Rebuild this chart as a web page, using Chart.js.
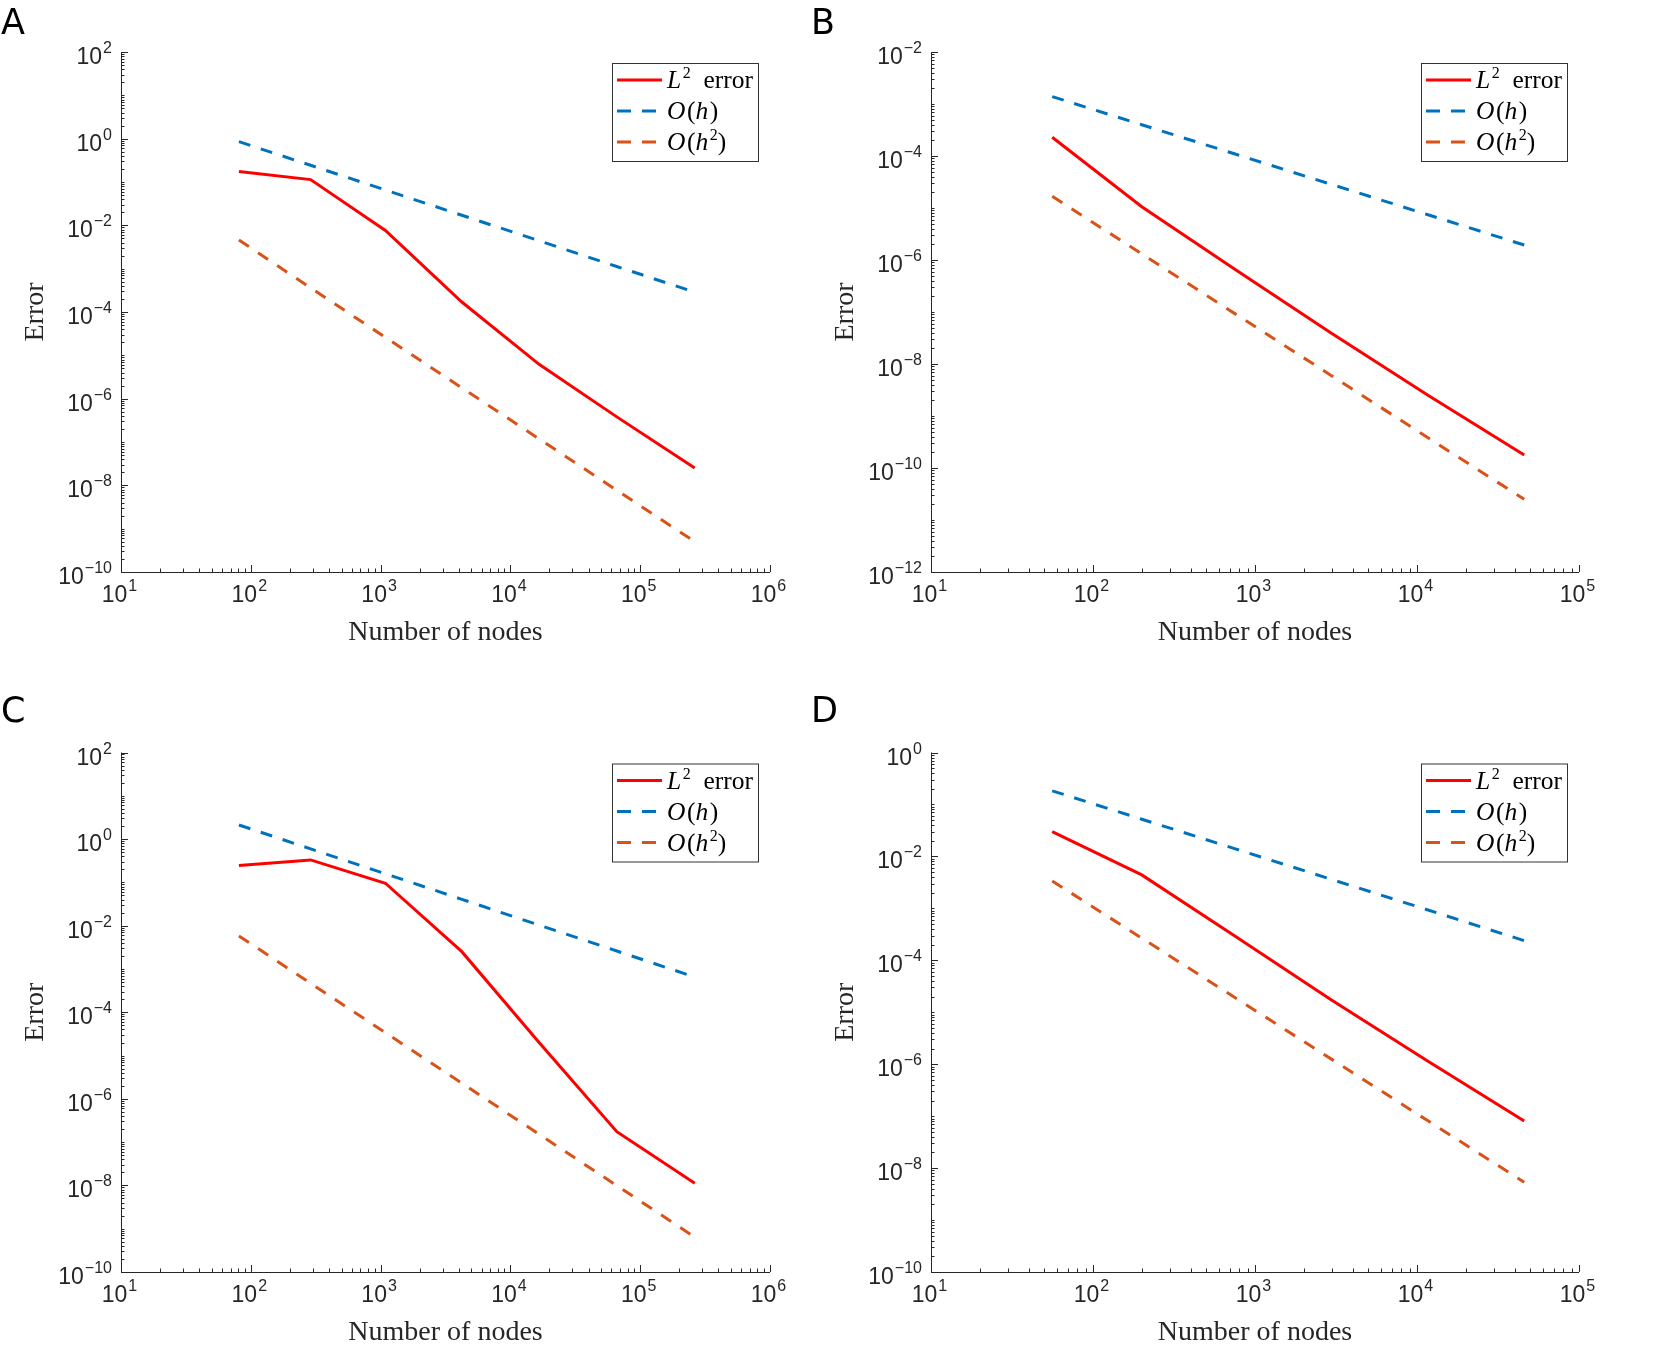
<!DOCTYPE html>
<html>
<head>
<meta charset="utf-8">
<script src="https://cdn.jsdelivr.net/npm/chart.js@4.4.1/dist/chart.umd.min.js"></script>
<style>
html, body { margin: 0; padding: 0; background: #fff; }
#fig { position: relative; width: 1661px; height: 1352px; overflow: hidden; background: #fff; }
#fig canvas { position: absolute; }
.letter { position: absolute; font: 35px "DejaVu Sans", sans-serif; line-height: 35px; color: #000; }
</style>
</head>
<body>
<div id="fig">
  <canvas id="cA" width="830" height="676" style="left:0;top:0"></canvas>
  <canvas id="cB" width="831" height="676" style="left:830px;top:0"></canvas>
  <canvas id="cC" width="830" height="676" style="left:0;top:676px"></canvas>
  <canvas id="cD" width="831" height="676" style="left:830px;top:676px"></canvas>
  <div class="letter" style="left:1px;top:5px">A</div>
  <div class="letter" style="left:811px;top:5px">B</div>
  <div class="letter" style="left:1px;top:693px">C</div>
  <div class="letter" style="left:811px;top:693px">D</div>
</div>
<script>
// number of nodes per refinement level
var nodesAC = [81, 289, 1089, 4225, 16641, 66049, 263169];
var nodesBD = [56, 200, 755, 2933, 11561, 45905];

// panel A
var errA = [0.174, 0.1135, 7.6e-3, 1.7e-4, 6.2e-6, 3.8e-7, 2.5e-8];
var ohA  = [0.855, 0.243, 0.0653, 0.0171, 4.4e-3, 1.12e-3, 2.86e-4];
var oh2A = [4.6e-3, 3.6e-4, 2.6e-5, 1.78e-6, 1.18e-7, 7.7e-9, 5.0e-10];

// panel B
var errB = [2.3e-4, 1.06e-5, 6.6e-7, 4.0e-8, 2.57e-9, 1.78e-10];
var ohB  = [1.39e-3, 3.99e-4, 1.09e-4, 2.87e-5, 7.5e-6, 1.94e-6];
var oh2B = [1.68e-5, 1.31e-6, 9.2e-8, 6.1e-9, 3.9e-10, 2.5e-11];

// panel C
var errC = [0.244, 0.330, 0.0955, 2.51e-3, 2.0e-5, 1.74e-7, 1.12e-8];
var ohC  = [2.12, 0.594, 0.158, 0.0406, 0.0103, 2.6e-3, 6.5e-4];
var oh2C = [5.8e-3, 4.66e-4, 3.37e-5, 2.3e-6, 1.52e-7, 9.9e-9, 6.4e-10];

// panel D
var errD = [0.030, 4.4e-3, 2.9e-4, 1.76e-5, 1.16e-6, 8.07e-8];
var ohD  = [0.183, 0.052, 0.014, 3.65e-3, 9.4e-4, 2.39e-4];
var oh2D = [3.36e-3, 2.67e-4, 1.9e-5, 1.28e-6, 8.3e-8, 5.35e-9];

var seriesLabels = ['L\u00b2 error', 'O(h)', 'O(h\u00b2)'];
// same labels split into pieces for drawing: i = italic, s = superscript
var legendRich = [
  [['L', 'i'], ['2', 's'], ['  error', '']],
  [['O', 'i'], ['(', ''], ['h', 'i'], [')', '']],
  [['O', 'i'], ['(', ''], ['h', 'i'], ['2', 's'], [')', '']]
];
var xTitle = 'Number of nodes';
var yTitle = 'Error';

var colors = ['#FF0000', '#0072BD', '#D95319'];
var axisColor = '#262626';
var sansFont = '"Liberation Sans", Arial, sans-serif';
var serifFont = '"Liberation Serif", "Times New Roman", serif';

function drawPow(ctx, exp, x, y, align) {
  var sup = String(exp).replace('-', '\u2212');
  ctx.font = '23px ' + sansFont;
  var w1 = ctx.measureText('10').width;
  ctx.font = '16px ' + sansFont;
  var w2 = ctx.measureText(sup).width;
  var x0 = align === 'right' ? x - w1 - w2 - 1 : x - (w1 + w2) / 2 - 2;
  ctx.textAlign = 'left';
  ctx.textBaseline = 'alphabetic';
  ctx.font = '23px ' + sansFont;
  ctx.fillText('10', x0, y);
  ctx.font = '16px ' + sansFont;
  ctx.fillText(sup, x0 + w1 + 1, y - 11);
}

function drawRich(ctx, parts, x, y) {
  for (var i = 0; i < parts.length; i++) {
    var t = parts[i][0], st = parts[i][1];
    var dy = 0;
    if (st === 'i') ctx.font = 'italic 25.5px ' + serifFont;
    else if (st === 's') { ctx.font = '16px ' + serifFont; dy = -10; }
    else ctx.font = '25.5px ' + serifFont;
    ctx.fillText(t, x, y + dy);
    x += ctx.measureText(t).width + (st === 'i' ? 1.5 : 0);
  }
}

var matlabAxes = {
  id: 'matlabAxes',
  afterDraw: function (chart) {
    var ctx = chart.ctx, a = chart.chartArea;
    var xs = chart.scales.x, ys = chart.scales.y;
    ctx.save();
    ctx.strokeStyle = axisColor;
    ctx.fillStyle = axisColor;
    ctx.lineWidth = 1;

    // axis lines (box off)
    ctx.beginPath();
    ctx.moveTo(a.left + 0.5, a.top);
    ctx.lineTo(a.left + 0.5, a.bottom + 0.5);
    ctx.lineTo(a.right, a.bottom + 0.5);
    ctx.stroke();

    // x ticks
    var x0 = Math.round(Math.log10(xs.min)), x1 = Math.round(Math.log10(xs.max));
    ctx.beginPath();
    for (var e = x0; e <= x1; e++) {
      for (var k = 1; k <= 9; k++) {
        var v = k * Math.pow(10, e);
        if (v > xs.max * 1.0001) break;
        var px = Math.round(xs.getPixelForValue(v)) + 0.5;
        var len = k === 1 ? 7 : 3.5;
        ctx.moveTo(px, a.bottom);
        ctx.lineTo(px, a.bottom - len);
      }
    }
    ctx.stroke();
    for (var e2 = x0; e2 <= x1; e2++) {
      drawPow(ctx, e2, xs.getPixelForValue(Math.pow(10, e2)), a.bottom + 30, 'center');
    }

    // y ticks
    var y0 = Math.round(Math.log10(ys.min)), y1 = Math.round(Math.log10(ys.max));
    ctx.beginPath();
    for (var f = y0; f <= y1; f++) {
      for (var j = 1; j <= 9; j++) {
        var w = j * Math.pow(10, f);
        if (w > ys.max * 1.0001) break;
        var py = Math.round(ys.getPixelForValue(w)) + 0.5;
        var major = j === 1 && (f - y0) % 2 === 0;
        ctx.moveTo(a.left, py);
        ctx.lineTo(a.left + (major ? 7 : 3.5), py);
      }
    }
    ctx.stroke();
    for (var f2 = y0; f2 <= y1; f2 += 2) {
      drawPow(ctx, f2, a.left - 9, ys.getPixelForValue(Math.pow(10, f2)) + 12, 'right');
    }

    // axis titles
    ctx.font = '28px ' + serifFont;
    ctx.textAlign = 'center';
    ctx.textBaseline = 'alphabetic';
    ctx.fillText(xTitle, (a.left + a.right) / 2, a.bottom + 68);
    ctx.save();
    ctx.translate(a.left - 78, (a.top + a.bottom) / 2);
    ctx.rotate(-Math.PI / 2);
    ctx.fillText(yTitle, 0, 0);
    ctx.restore();

    // legend box
    var lw = 146, lh = 98;
    var lx = a.right - 12 - lw, ly = a.top + 11;
    ctx.fillStyle = '#fff';
    ctx.fillRect(lx, ly, lw, lh);
    ctx.strokeStyle = '#333';
    ctx.strokeRect(lx + 0.5, ly + 0.5, lw, lh);
    chart.data.datasets.forEach(function (ds, i) {
      var ry = ly + 17 + i * 31;
      ctx.strokeStyle = ds.borderColor;
      ctx.lineWidth = 3;
      ctx.setLineDash(ds.borderDash ? [14, 11] : []);
      ctx.beginPath();
      ctx.moveTo(lx + 5, ry);
      ctx.lineTo(lx + 50, ry);
      ctx.stroke();
      ctx.setLineDash([]);
      ctx.fillStyle = '#000';
      ctx.textAlign = 'left';
      drawRich(ctx, legendRich[i], lx + 55, ry + 8);
    });
    ctx.restore();
  }
};

function makePanel(canvasId, nodes, err, oh, oh2, xMax, yMin, yMax, area) {
  var cv = document.getElementById(canvasId);
  var W = cv.width, H = cv.height;
  function pts(vals) {
    return nodes.map(function (n, i) { return { x: n, y: vals[i] }; });
  }
  new Chart(cv, {
    type: 'line',
    data: {
      datasets: [
        { label: seriesLabels[0], data: pts(err), borderColor: colors[0], borderWidth: 3, pointRadius: 0, fill: false },
        { label: seriesLabels[1], data: pts(oh), borderColor: colors[1], borderWidth: 3, borderDash: [12, 11], pointRadius: 0, fill: false },
        { label: seriesLabels[2], data: pts(oh2), borderColor: colors[2], borderWidth: 3, borderDash: [12, 11], pointRadius: 0, fill: false }
      ]
    },
    options: {
      responsive: false,
      animation: false,
      devicePixelRatio: 1,
      layout: { padding: { left: area.l, top: area.t, right: W - area.r, bottom: H - area.b } },
      scales: {
        x: { type: 'logarithmic', min: 10, max: xMax, display: false },
        y: { type: 'logarithmic', min: yMin, max: yMax, display: false }
      },
      elements: { line: { tension: 0 } },
      plugins: {
        legend: { display: false },
        tooltip: { enabled: false }
      }
    },
    plugins: [matlabAxes]
  });
}

makePanel('cA', nodesAC, errA, ohA, oh2A, 1e6, 1e-10, 1e2, { l: 121, t: 52, r: 770, b: 572 });
makePanel('cB', nodesBD, errB, ohB, oh2B, 1e5, 1e-12, 1e-2, { l: 101, t: 52, r: 749, b: 572 });
makePanel('cC', nodesAC, errC, ohC, oh2C, 1e6, 1e-10, 1e2, { l: 121, t: 76.5, r: 770, b: 596 });
makePanel('cD', nodesBD, errD, ohD, oh2D, 1e5, 1e-10, 1e0, { l: 101, t: 76.5, r: 749, b: 596 });
</script>
</body>
</html>
